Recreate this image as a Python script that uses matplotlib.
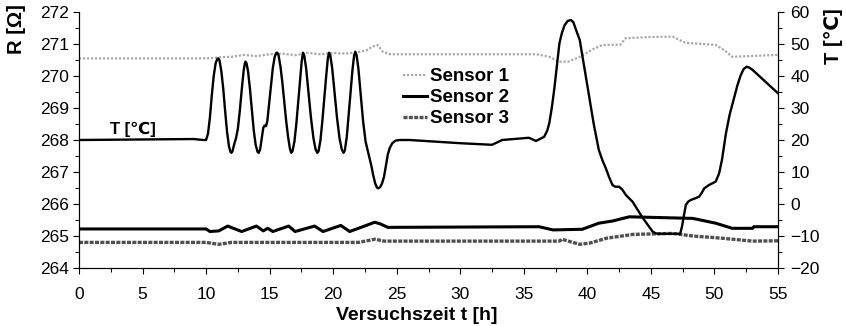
import matplotlib
matplotlib.use("Agg")
import matplotlib.pyplot as plt

plt.rcParams['font.family'] = ['Liberation Sans', 'DejaVu Sans']

# Temperature curve (right axis)
t_T = [0, 9.0, 9.8, 10.0, 10.15, 10.3, 10.45, 10.6, 10.75, 10.88, 10.95, 11.05, 11.2, 11.35, 11.5,
       11.65, 11.8, 11.92, 12.0, 12.08, 12.2, 12.35, 12.5, 12.65, 12.8, 12.95, 13.05, 13.1, 13.18,
       13.3, 13.45, 13.6, 13.75, 13.9, 14.05, 14.14, 14.25, 14.4, 14.5, 14.6, 14.72, 14.82, 14.95,
       15.1, 15.25, 15.4, 15.52, 15.6, 15.7, 15.85, 16.0, 16.15, 16.3, 16.45, 16.6, 16.7, 16.8,
       16.95, 17.1, 17.25, 17.4, 17.52, 17.62, 17.72, 17.87, 18.05, 18.25, 18.45, 18.62, 18.75,
       18.85, 19.0, 19.15, 19.3, 19.45, 19.58, 19.67, 19.77, 19.92, 20.1, 20.3, 20.5, 20.68, 20.82,
       20.92, 21.07, 21.22, 21.37, 21.52, 21.65, 21.74, 21.84, 21.98, 22.15, 22.35, 22.55, 22.7,
       22.85, 23.0, 23.15, 23.3, 23.45, 23.55, 23.7, 23.85, 24.0, 24.15, 24.3, 24.45, 24.65, 24.9,
       25.2, 26, 28, 30, 32.5, 33.3, 35.4, 35.96, 36.6, 36.85, 37.0, 37.2, 37.4, 37.6, 37.8, 38.0,
       38.2, 38.45, 38.7, 38.9, 39.1, 39.4, 39.75, 40.1, 40.5, 40.9, 41.2, 41.46, 41.7, 41.98, 42.2,
       42.5, 42.75, 43.03, 43.56, 44.3, 45.13, 45.4, 45.6, 47.3, 47.45, 47.6, 47.75, 47.95, 48.14,
       48.5, 48.8, 49.0, 49.2, 49.6, 50.1, 50.37, 50.6, 50.9, 51.2, 51.5, 51.8, 52.07, 52.3, 52.54,
       52.75, 53.0, 55.0]
T_val = [20, 20.3, 20, 20, 22, 27, 34, 40, 44, 45.3, 45.5, 45, 41.5, 36, 29,
         22.5, 18, 16.3, 16, 16.5, 18.5, 20.5, 23.5, 29, 35.5, 41.5, 44, 44.5, 44,
         41.5, 36, 29.5, 23, 18.5, 16.3, 16, 17, 21, 23.8, 24.5, 24.3, 26, 31,
         37, 42.5, 46, 47.2, 47.3, 46.5, 43, 38, 32, 26, 21, 17.2, 16, 16.5,
         19.5, 25, 32, 39, 44.5, 47.3, 46.5, 42.5, 35, 27, 20.5, 17, 16,
         16.5, 20, 26, 33, 40, 45.5, 47.3, 46.5, 42.5, 35, 27, 20.5, 17, 16,
         16.8, 21, 28, 35, 42, 46.5, 47.6, 46.5, 42.5, 35, 26, 19.5, 17,
         14.5, 12, 9, 6.5, 5.1, 4.9, 5.3, 6.5, 8.5, 12, 15.5, 17.5, 19, 19.8,
         20, 20, 19.5, 19, 18.5, 20, 20.7, 19.7, 21, 23, 25.2, 30, 36, 43, 50.2, 53.5,
         55.8, 57.2, 57.5, 56.8, 54.5, 51.25, 43, 34.6, 25, 16.9, 13.5, 11.1, 8.5, 5.9, 5.4,
         5.4, 4.5, 2.8, 0.7, -4, -8.6, -9.2, -9.3, -9.3, -7, -3.5, -0.3, 0.8, 1.25,
         1.8, 2.3, 3.5, 4.9, 6.0, 7.0, 9.6, 14, 22, 28, 32.5, 37, 40.3, 42.2, 42.9,
         42.6, 41.9, 34.6]

# Sensor 1 (left axis)
t_s1 = [0, 10, 11, 12, 13, 14, 15, 16, 17, 18, 19, 20, 21, 22, 22.6, 23.1, 23.5, 23.9, 24.5, 30,
        36, 37, 37.8, 38.5, 39.4, 40.5, 41.2, 42.6, 43.0, 45, 46.7, 47.7, 50.1, 50.8, 51.4, 55]
R_s1 = [270.55, 270.55, 270.58, 270.6, 270.66, 270.62, 270.68, 270.7, 270.65, 270.72, 270.68,
        270.72, 270.7, 270.75, 270.8, 270.92, 270.97, 270.76, 270.68, 270.68, 270.68, 270.6,
        270.45, 270.45, 270.6, 270.85, 270.97, 270.98, 271.18, 271.22, 271.23, 271.04, 270.97,
        270.8, 270.6, 270.66]

# Sensor 2
t_s2 = [0, 10, 10.3, 11.0, 11.7, 12.8, 13.96, 14.5, 14.85, 15.25, 16.5, 17, 18.54, 19.2, 20.6,
        21.3, 22.6, 23.26, 23.7, 24.3, 36.2, 37.3, 39.6, 40.9, 42, 43.3, 48.3, 50.1, 51.4, 53,
        53.1, 55]
R_s2 = [265.22, 265.22, 265.14, 265.16, 265.31, 265.14, 265.31, 265.16, 265.24, 265.14, 265.31,
        265.14, 265.31, 265.14, 265.33, 265.14, 265.33, 265.43, 265.38, 265.27, 265.29, 265.19,
        265.21, 265.4, 265.47, 265.6, 265.55, 265.4, 265.24, 265.24, 265.29, 265.29]

# Sensor 3
t_s3 = [0, 10, 11, 12, 22, 23.3, 24, 37.8, 38, 38.5, 39.4, 40.2, 41.5, 43.6, 46.7, 48.3, 50.6, 53, 55]
R_s3 = [264.8, 264.8, 264.74, 264.8, 264.8, 264.9, 264.84, 264.84, 264.9, 264.84, 264.74, 264.78,
        264.93, 265.05, 265.08, 265.0, 264.93, 264.84, 264.85]

labels = ['Sensor 1', 'Sensor 2', 'Sensor 3']
x_ticks = [0, 5, 10, 15, 20, 25, 30, 35, 40, 45, 50, 55]
yl_ticks = [264, 265, 266, 267, 268, 269, 270, 271, 272]
yr_ticks = [-20, -10, 0, 10, 20, 30, 40, 50, 60]

fig = plt.figure(figsize=(8.46, 3.26), dpi=100)
ax = fig.add_axes([79/846, 1-268/326, (778-79)/846, 256/326])
ax2 = ax.twinx()

ax.plot(t_s1, R_s1, color='#a8a8a8', lw=1.6, ls=(0, (1, 0.8)), label=labels[0])
ax.plot(t_s2, R_s2, color='black', lw=2.2, label=labels[1])
ax.plot(t_s3, R_s3, color='#505050', lw=2.4, ls=(0, (1.2, 0.4)), label=labels[2])
ax2.plot(t_T, T_val, color='black', lw=1.7, solid_joinstyle='round')

ax.set_xlim(0, 55)
ax.set_ylim(264, 272)
ax2.set_ylim(-20, 60)
ax.set_xticks(x_ticks)
ax.set_yticks(yl_ticks)
ax2.set_yticks(yr_ticks)
ax.set_xticks([2.5 + 5 * i for i in range(11)], minor=True)
ax.set_yticks([264.5 + i for i in range(8)], minor=True)
ax2.set_yticks([-15 + 10 * i for i in range(8)], minor=True)

for a in (ax, ax2):
    a.spines['top'].set_visible(False)
    a.tick_params(which='major', length=4, width=0.8, labelsize=12.5, direction='out')
    a.tick_params(which='minor', length=3, width=0.7, direction='out')
ax.tick_params(axis='x', pad=10)
ax.tick_params(axis='y', pad=3)
ax2.tick_params(axis='y', pad=5)

fig.text(417/846, 1-315/326, 'Versuchszeit t [h]', fontsize=14, fontweight='bold',
         ha='center', va='center')
fig.text(17/846, 1-29/326, 'R [Ω]', rotation=90, fontsize=14.5, fontweight='bold',
         ha='center', va='center')
fig.text(833/846, 1-36/326, 'T [℃]', rotation=90, fontsize=14.5, fontweight='bold',
         ha='center', va='center')
ax.text(2.45, 268.1, 'T [℃]', fontsize=12, fontweight='bold', ha='left', va='bottom')

ax.legend(loc='upper left', bbox_to_anchor=(0.4635, 0.78), frameon=False,
          prop={'size': 13.5, 'weight': 'bold'}, handlelength=1.3, handletextpad=0.15,
          labelspacing=0.2, borderpad=0, borderaxespad=0)

fig.savefig('out.png', dpi=100)
